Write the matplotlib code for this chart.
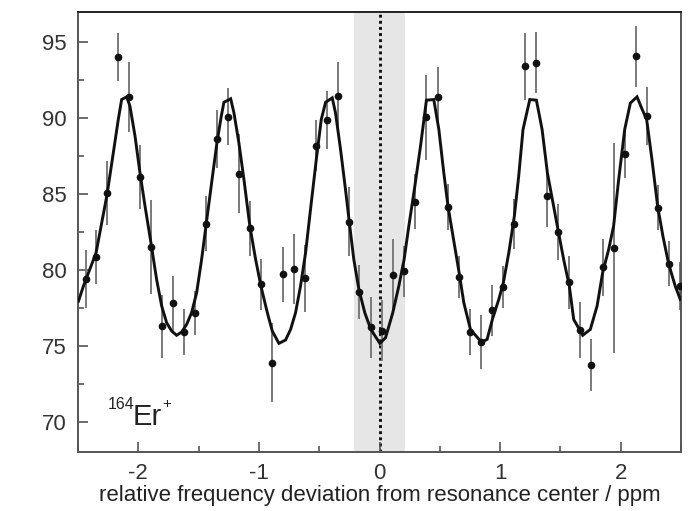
import matplotlib
matplotlib.use("Agg")
import matplotlib.pyplot as plt
from matplotlib.ticker import MultipleLocator

plt.rcParams["font.family"] = ["Liberation Sans", "DejaVu Sans"]

# measured points: frequency deviation (ppm), signal, 1-sigma uncertainty
freq = [-2.436, -2.350, -2.259, -2.168, -2.077, -1.986, -1.895, -1.800, -1.709, -1.618, -1.527,
        -1.439, -1.348, -1.257, -1.166, -1.075, -0.983, -0.892, -0.798, -0.707, -0.616, -0.524, -0.433,
        -0.340, -0.251, -0.166, -0.072, 0.019, 0.110, 0.204, 0.293, 0.387, 0.481, 0.569,
        0.660, 0.754, 0.845, 0.936, 1.027, 1.118, 1.210, 1.301, 1.392, 1.483, 1.574,
        1.665, 1.756, 1.850, 1.941, 2.033, 2.124, 2.215, 2.306, 2.397, 2.488]
signal = [79.42, 80.84, 85.09, 94.02, 91.38, 86.11, 81.50, 76.28, 77.79, 75.90, 77.18,
          83.04, 88.64, 90.11, 86.34, 82.75, 79.04, 73.89, 79.70, 80.08, 79.44, 88.20, 89.89,
          91.48, 83.19, 78.54, 76.21, 75.99, 79.64, 79.90, 84.49, 90.05, 91.38, 84.14,
          79.53, 75.90, 75.24, 77.33, 78.87, 83.00, 93.43, 93.65, 84.84, 82.52, 79.18,
          76.06, 73.73, 80.16, 81.44, 87.67, 94.07, 90.13, 84.10, 80.41, 78.93]
sigma = [1.9, 1.8, 2.1, 1.6, 2.3, 2.1, 3.1, 2.1, 1.8, 1.5, 1.45,
         1.8, 1.9, 1.9, 2.6, 1.8, 1.7, 2.6, 1.8, 2.3, 2.2, 1.7, 1.9,
         2.2, 2.3, 1.8, 2.0, 2.0, 2.4, 1.7, 1.8, 2.8, 2.0, 1.5,
         1.4, 1.5, 1.8, 1.7, 1.4, 1.65, 2.2, 2.0, 2.0, 1.85, 1.75,
         1.85, 1.7, 1.9, 6.9, 1.6, 2.0, 1.9, 1.5, 1.5, 1.6]

# fitted line shape
fit_freq = [-2.496, -2.455, -2.350, -2.259, -2.207, -2.166, -2.138, -2.096, -2.069, -2.027,
            -1.986, -1.944, -1.895, -1.848, -1.806, -1.765, -1.723, -1.682, -1.640, -1.599,
            -1.558, -1.516, -1.475, -1.439, -1.392, -1.348, -1.312, -1.290, -1.234, -1.207,
            -1.166, -1.124, -1.075, -1.027, -0.983, -0.930, -0.889, -0.834, -0.779, -0.737,
            -0.696, -0.655, -0.613, -0.572, -0.524, -0.483, -0.447, -0.392, -0.365, -0.323,
            -0.282, -0.251, -0.213, -0.171, -0.122, -0.072, 0.003, 0.050, 0.110, 0.160,
            0.204, 0.243, 0.293, 0.340, 0.389, 0.450, 0.492, 0.533, 0.569, 0.660,
            0.699, 0.754, 0.845, 0.892, 0.936, 0.989, 1.027, 1.072, 1.118, 1.154,
            1.190, 1.246, 1.301, 1.348, 1.392, 1.483, 1.527, 1.574, 1.610, 1.665,
            1.685, 1.748, 1.804, 1.850, 1.900, 1.941, 1.983, 2.033, 2.080, 2.135,
            2.177, 2.215, 2.259, 2.306, 2.350, 2.397, 2.452, 2.494]
fit_signal = [77.94, 78.93, 81.13, 84.97, 87.72, 89.91, 91.23, 91.41, 90.79, 88.82,
              86.40, 84.20, 81.79, 79.37, 77.62, 76.52, 75.97, 75.69, 75.91, 76.41,
              77.18, 78.50, 80.69, 82.89, 85.74, 88.38, 90.13, 91.05, 91.28, 90.36,
              88.38, 85.96, 82.89, 80.69, 78.93, 77.18, 75.97, 75.16, 75.38, 76.08,
              77.18, 78.93, 81.13, 83.99, 87.28, 89.91, 91.05, 91.34, 90.36, 87.94,
              85.30, 83.19, 80.69, 78.72, 77.18, 76.08, 75.16, 75.53, 77.18, 78.93,
              80.69, 82.89, 85.52, 88.16, 91.19, 91.23, 89.26, 86.40, 84.14, 79.82,
              77.84, 76.08, 75.24, 75.42, 76.74, 78.06, 79.16, 81.13, 83.54, 86.18,
              89.26, 91.23, 91.19, 89.26, 86.40, 82.52, 80.69, 78.93, 76.74, 75.97,
              75.69, 76.08, 77.62, 79.82, 81.35, 82.89, 85.96, 89.26, 91.00, 91.41,
              90.60, 89.91, 87.28, 84.20, 82.22, 80.41, 78.93, 78.06]

band = (-0.215, 0.21)
xticks = [-2, -1, 0, 1, 2]
yticks = [70, 75, 80, 85, 90, 95]

fig = plt.figure(figsize=(6.95, 5.11), dpi=100)
ax = fig.add_axes([0.1122, 0.1155, 0.8677, 0.861])

ax.axvspan(band[0], band[1], color="#e6e6e6", lw=0, zorder=0)
ax.axvline(0, color="#111111", lw=2.1, ls=(0, (1, 1.1)), zorder=1)

ax.errorbar(freq, signal, yerr=sigma, fmt="none", ecolor="#7a7a7a", elinewidth=1.4,
            capsize=0, zorder=2)
ax.plot(fit_freq, fit_signal, color="#111111", lw=2.1, zorder=3, solid_joinstyle="miter")
ax.plot(freq, signal, "o", color="#111111", ms=4.5, zorder=4)

ax.set_xlim(-2.5, 2.5)
ax.set_ylim(68, 97)
ax.set_xticks(xticks)
ax.set_xticklabels([str(t) for t in xticks])
ax.set_yticks(yticks)
ax.xaxis.set_minor_locator(MultipleLocator(0.5))
ax.yaxis.set_minor_locator(MultipleLocator(2.5))

ax.tick_params(which="major", direction="in", length=7, width=1.2, color="#555555",
               labelsize=16, labelcolor="#333333", pad=8)
ax.tick_params(which="minor", direction="in", length=4, width=1.2, color="#555555")
ax.tick_params(top=False, right=False, which="both")

for side in ("left", "bottom", "right"):
    ax.spines[side].set_color("#555555")
    ax.spines[side].set_linewidth(1.4)
ax.spines["top"].set_color("#222222")
ax.spines["top"].set_linewidth(1.4)

ax.set_xlabel("relative frequency deviation from resonance center / ppm",
              fontsize=16, color="#222222", labelpad=1)

ax.text(0.050, 0.097, "164", transform=ax.transAxes, fontsize=11.5, color="#222222",
        ha="left", va="baseline")
ax.text(0.090, 0.061, "Er", transform=ax.transAxes, fontsize=21, color="#222222",
        ha="left", va="baseline")
ax.text(0.140, 0.108, "+", transform=ax.transAxes, fontsize=11, color="#222222",
        ha="left", va="center")

fig.savefig("out.png", dpi=100)
